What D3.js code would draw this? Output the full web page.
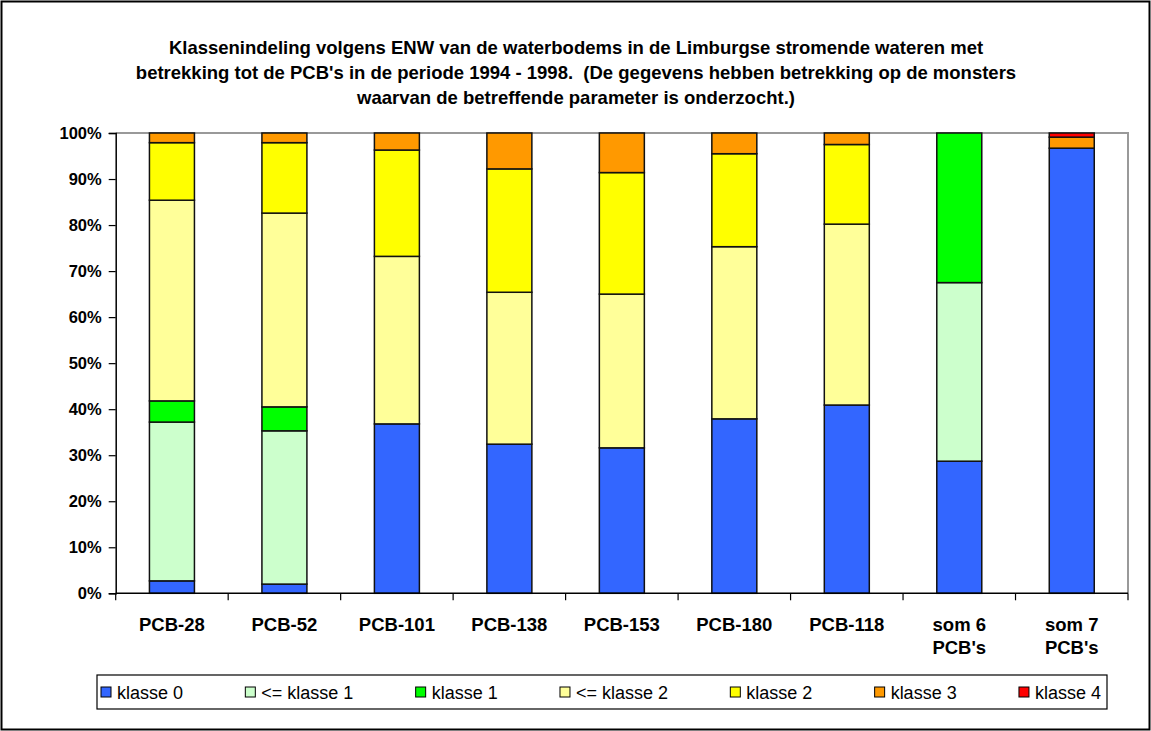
<!DOCTYPE html>
<html>
<head>
<meta charset="utf-8">
<script src="https://cdn.jsdelivr.net/npm/d3@7"></script>
<style>
  html, body { margin: 0; padding: 0; background: #fff; }
  svg { display: block; font-family: "Liberation Sans", Arial, sans-serif; }
</style>
</head>
<body>
<svg id="chart" width="1151" height="731"></svg>
<script>
// Sample groups (x axis); "\n" marks a line break in the label
const categories = ["PCB-28", "PCB-52", "PCB-101", "PCB-138", "PCB-153", "PCB-180", "PCB-118", "som 6\nPCB's", "som 7\nPCB's"];

// Share of samples per class, in percent
const klasse0   = [2.7, 2.0, 36.8, 32.4, 31.6, 37.9, 40.9, 28.7, 96.7];
const totKlasse1 = [34.5, 33.3, 0, 0, 0, 0, 0, 38.8, 0];
const klasse1   = [4.6, 5.2, 0, 0, 0, 0, 0, 32.5, 0];
const totKlasse2 = [43.6, 42.1, 36.4, 33.0, 33.4, 37.4, 39.3, 0, 0];
const klasse2   = [12.5, 15.3, 23.1, 26.8, 26.4, 20.2, 17.3, 0, 0];
const klasse3   = [2.1, 2.1, 3.7, 7.8, 8.6, 4.5, 2.5, 0, 2.4];
const klasse4   = [0, 0, 0, 0, 0, 0, 0, 0, 0.9];

const seriesNames = ["klasse 0", "<= klasse 1", "klasse 1", "<= klasse 2", "klasse 2", "klasse 3", "klasse 4"];
const seriesValues = [klasse0, totKlasse1, klasse1, totKlasse2, klasse2, klasse3, klasse4];
const seriesColors = ["#3366FF", "#CCFFCC", "#00FF00", "#FFFF99", "#FFFF00", "#FF9900", "#FF0000"];

const yTicks = [0, 10, 20, 30, 40, 50, 60, 70, 80, 90, 100];

const titleLines = [
  "Klassenindeling volgens ENW van de waterbodems in de Limburgse stromende wateren met",
  "betrekking tot de PCB's in de periode 1994 - 1998.  (De gegevens hebben betrekking op de monsters",
  "waarvan de betreffende parameter is onderzocht.)"
];

// Table for the stack layout
const table = categories.map((c, i) => {
  const row = { cat: c };
  seriesNames.forEach((s, k) => { row[s] = seriesValues[k][i]; });
  return row;
});

const svg = d3.select("#chart");
const W = 1151, H = 731;
const plot = { left: 115.7, right: 1128, top: 133, bottom: 593.3 };

// Outer chart border
svg.append("rect")
  .attr("x", 1.5).attr("y", 1.5)
  .attr("width", W - 3).attr("height", H - 3)
  .attr("fill", "#fff").attr("stroke", "#000").attr("stroke-width", 2);

// Title
svg.append("g")
  .selectAll("text")
  .data(titleLines)
  .join("text")
  .attr("x", 576)
  .attr("y", (d, i) => 53.5 + i * 25)
  .attr("text-anchor", "middle")
  .attr("font-size", 18.5)
  .attr("font-weight", "bold")
  .attr("xml:space", "preserve")
  .style("white-space", "pre")
  .text(d => d);

const x = d3.scaleBand()
  .domain(categories)
  .range([plot.left, plot.right])
  .paddingInner(0.6)
  .paddingOuter(0.3);

const y = d3.scaleLinear()
  .domain([0, 100])
  .range([plot.bottom, plot.top]);

// Plot area frame (top and right sides in grey)
svg.append("path")
  .attr("d", `M${plot.left},${plot.top}H${plot.right}V${plot.bottom}`)
  .attr("fill", "none")
  .attr("stroke", "#999")
  .attr("stroke-width", 2);

// Stacked bars
const stacked = d3.stack().keys(seriesNames)(table);

svg.append("g")
  .selectAll("g")
  .data(stacked)
  .join("g")
  .attr("fill", (d, i) => seriesColors[i])
  .selectAll("rect")
  .data(d => d.filter(p => p[1] - p[0] > 0))
  .join("rect")
  .attr("x", d => x(d.data.cat))
  .attr("width", x.bandwidth())
  .attr("y", d => y(d[1]))
  .attr("height", d => y(d[0]) - y(d[1]))
  .attr("stroke", "#111")
  .attr("stroke-width", 1.5);

// Y axis
const yAxis = svg.append("g")
  .attr("transform", `translate(${plot.left},0)`)
  .call(d3.axisLeft(y).tickValues(yTicks).tickFormat(d => d + "%").tickSize(7).tickPadding(7));
yAxis.select(".domain").attr("stroke", "#000").attr("stroke-width", 1.5);
yAxis.selectAll(".tick line").attr("stroke", "#000").attr("stroke-width", 1.2);
yAxis.selectAll(".tick text")
  .attr("font-size", 16.5)
  .attr("font-weight", "bold")
  .attr("font-family", "'Liberation Sans', Arial, sans-serif")
  .attr("fill", "#000");

// X axis: baseline, boundary ticks and category labels
const xg = svg.append("g");
xg.append("line")
  .attr("x1", plot.left).attr("x2", plot.right)
  .attr("y1", plot.bottom).attr("y2", plot.bottom)
  .attr("stroke", "#000").attr("stroke-width", 1.5);

// tick marks sit halfway between neighbouring bars
const boundaries = categories.map(c => x(c) - (x.step() - x.bandwidth()) / 2);
boundaries.push(plot.right);
xg.selectAll("line.tick")
  .data(boundaries)
  .join("line")
  .attr("class", "tick")
  .attr("x1", d => d).attr("x2", d => d)
  .attr("y1", plot.bottom).attr("y2", plot.bottom + 7)
  .attr("stroke", "#000").attr("stroke-width", 1.2);

xg.selectAll("text.cat")
  .data(categories)
  .join("text")
  .attr("class", "cat")
  .attr("x", d => x(d) + x.bandwidth() / 2)
  .attr("y", 630.5)
  .attr("text-anchor", "middle")
  .attr("font-size", 18.5)
  .attr("font-weight", "bold")
  .each(function(d) {
    const lines = d.split("\n");
    d3.select(this).selectAll("tspan")
      .data(lines)
      .join("tspan")
      .attr("x", x(d) + x.bandwidth() / 2)
      .attr("dy", (l, i) => i === 0 ? 0 : 23)
      .text(l => l);
  });

// Legend
const legendBox = { x: 97, y: 675, w: 1010, h: 34 };
const lg = svg.append("g");
lg.append("rect")
  .attr("x", legendBox.x).attr("y", legendBox.y)
  .attr("width", legendBox.w).attr("height", legendBox.h)
  .attr("fill", "#fff").attr("stroke", "#000").attr("stroke-width", 1.2);

const items = lg.selectAll("g.item")
  .data(seriesNames)
  .join("g")
  .attr("class", "item");

items.append("rect")
  .attr("width", 10).attr("height", 10)
  .attr("y", legendBox.y + 12)
  .attr("fill", (d, i) => seriesColors[i])
  .attr("stroke", "#000").attr("stroke-width", 1);

items.append("text")
  .attr("y", legendBox.y + 23.5)
  .attr("font-size", 18)
  .attr("xml:space", "preserve")
  .text(d => d);

// Spread the legend entries evenly inside the box
const inner0 = legendBox.x + 4, inner1 = legendBox.x + legendBox.w - 6;
const widths = [];
items.each(function() {
  widths.push(16 + d3.select(this).select("text").node().getComputedTextLength());
});
const gap = (inner1 - inner0 - d3.sum(widths)) / (widths.length - 1);
let cx = inner0;
items.each(function(d, i) {
  const g = d3.select(this);
  g.select("rect").attr("x", cx);
  g.select("text").attr("x", cx + 16);
  cx += widths[i] + gap;
});
</script>
</body>
</html>
